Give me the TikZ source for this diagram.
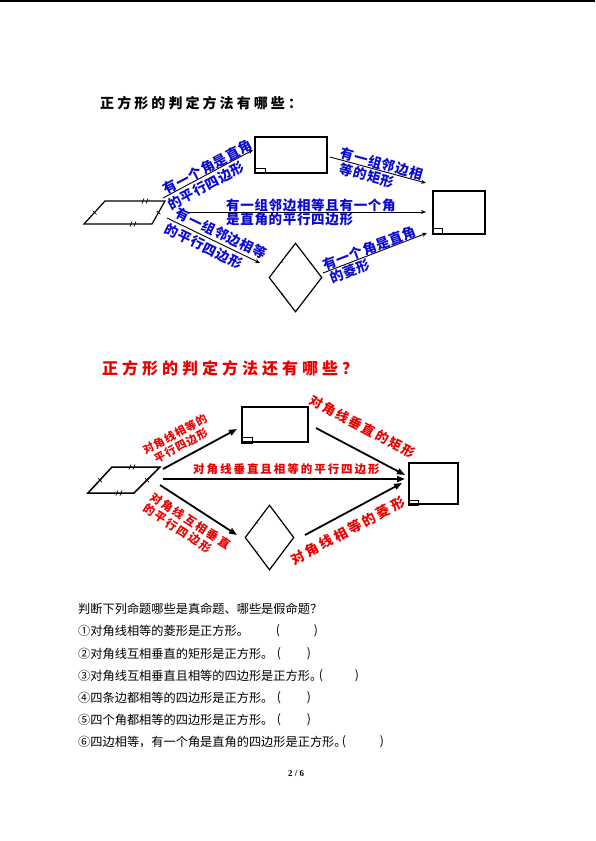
\documentclass[tikz,border=0pt]{standalone}
\usepackage{fontspec}
\setmainfont{Liberation Serif}
\newfontfamily\cjk{Noto Sans CJK SC}
\usetikzlibrary{arrows.meta,shapes.geometric,calc}
\definecolor{bluetxt}{RGB}{10,10,210}
\definecolor{redtxt}{RGB}{235,0,0}
\tikzset{
  bl/.style={font={\cjk\bfseries\fontsize{13.5}{14}\selectfont\addfontfeature{LetterSpace=5}}, text=bluetxt, inner sep=0pt},
  rdA/.style={font={\cjk\bfseries\fontsize{11}{12.5}\selectfont\addfontfeature{LetterSpace=9}}, text=redtxt, inner sep=0pt},
  rdB/.style={font={\cjk\bfseries\fontsize{13}{14}\selectfont\addfontfeature{LetterSpace=15}}, text=redtxt, inner sep=0pt},
  rdC/.style={font={\cjk\bfseries\fontsize{11.5}{13.5}\selectfont\addfontfeature{LetterSpace=17}}, text=redtxt, inner sep=0pt},
  rdD/.style={font={\cjk\bfseries\fontsize{13.5}{15}\selectfont\addfontfeature{LetterSpace=20}}, text=redtxt, inner sep=0pt},
  qtext/.style={font={\cjk\fontsize{12.2}{14}\selectfont}, inner sep=0pt},
  barr/.style={-{Stealth[length=5pt,width=4pt]}, line width=0.9pt},
  rarr/.style={-{Triangle[length=8pt,width=6pt]}, line width=1.8pt},
  tbox/.style={draw, line width=1.3pt, inner sep=0pt},
  rbox/.style={draw, line width=1.8pt, inner sep=0pt},
  pline/.style={line width=1.2pt, line join=miter},
  tick/.style={line width=0.7pt},
}
\begin{document}
\begin{tikzpicture}[x=1pt,y=-1pt]
\useasboundingbox (0,0) rectangle (595,841);
\fill (0,0.2) rectangle (595,1.5);

% ---------- title 1
\node[font={\cjk\bfseries\fontsize{14}{16}\selectfont\addfontfeature{LetterSpace=22}}, anchor=west, inner sep=0pt] (t1) at (100,103) {正方形的判定方法有哪些：};

% ---------- top diagram
\coordinate (p1a) at (105,201);
\coordinate (p1b) at (165,201);
\coordinate (p1c) at (152,224);
\coordinate (p1d) at (84,224);
\draw[pline] (p1a) -- (p1b) -- (p1c) -- (p1d) -- cycle;
\draw[tick] (142,203.5) -- (144,198.5) (146,203.5) -- (148,198.5);
\draw[tick] (130,226.5) -- (132,221.5) (134,226.5) -- (136,221.5);
\draw[tick] (92.5,210.5) -- (96.5,214.5);
\draw[tick] (156.5,210.8) -- (160.5,214.2);

\node[tbox, minimum width=72pt, minimum height=36pt] (r1) at (291,155) {};
\draw[line width=0.8pt] (r1.south west) rectangle ++(11,-5);
\node[tbox, minimum width=52pt, minimum height=43pt] (r2) at (459,212.5) {};
\draw[line width=0.8pt] (r2.south west) rectangle ++(10,-6);
\node[diamond, draw, line width=1.2pt, minimum width=53pt, minimum height=69pt, inner sep=0pt] (d1) at (295.5,277.5) {};
\draw[line width=0.5pt] (281,261) -- (283,262.5) (281,295) -- (283,293.5);

\coordinate (a1s) at (163,198); \coordinate (a1e) at (253,150);
\coordinate (a2s) at (330,157); \coordinate (a2e) at (426,183);
\coordinate (a3s) at (188,212); \coordinate (a3e) at (426,212);
\coordinate (a4s) at (167,218); \coordinate (a4e) at (260,263);
\coordinate (a5s) at (323,273); \coordinate (a5e) at (427,233);

\draw[barr] (a1s) -- (a1e)
  node[bl, sloped, pos=0.53, above=-1pt] (l1a) {有一个角是直角}
  node[bl, sloped, pos=0.43, below=2.5pt] (l1b) {的平行四边形};
\draw[barr] (a2s) -- (a2e)
  node[bl, sloped, pos=0.52, above=0pt] (l2a) {有一组邻边相}
  node[bl, sloped, pos=0.41, below=1pt] (l2b) {等的矩形};
\draw[barr] (a3s) -- (a3e);
\node[bl, anchor=west] (l3a) at (226,205.5) {有一组邻边相等且有一个角};
\node[bl, anchor=west] (l3b) at (226,219.5) {是直角的平行四边形};
\draw[barr] (a4s) -- (a4e)
  node[bl, sloped, pos=0.54, above=2.5pt] (l4a) {有一组邻边相等}
  node[bl, sloped, pos=0.44, below=2.5pt] (l4b) {的平行四边形};
\draw[barr] (a5s) -- (a5e)
  node[bl, sloped, pos=0.47, above=-0.5pt] (l5a) {有一个角是直角}
  node[bl, sloped, pos=0.23, below=1pt] (l5b) {的菱形};

% ---------- title 2
\node[font={\cjk\bfseries\fontsize{16}{18}\selectfont\addfontfeature{LetterSpace=25}}, text=redtxt, anchor=west, inner sep=0pt] (t2) at (102,368) {正方形的判定方法还有哪些？};

% ---------- bottom diagram
\coordinate (p2a) at (112,467);
\coordinate (p2b) at (160,467);
\coordinate (p2c) at (134,493);
\coordinate (p2d) at (88,493);
\draw[pline, line width=1.5pt] (p2a) -- (p2b) -- (p2c) -- (p2d) -- cycle;
\draw[tick] (129,469.5) -- (131,464.5) (133,469.5) -- (135,464.5);
\draw[tick] (116,495.5) -- (118,490.5) (120,495.5) -- (122,490.5);
\draw[tick] (98,478) -- (102,482);
\draw[tick] (145,478) -- (149,482);

\node[rbox, minimum width=66pt, minimum height=35pt] (r3) at (275,424.5) {};
\draw[line width=0.8pt] (r3.south west) rectangle ++(11,-6);
\node[rbox, minimum width=49pt, minimum height=41pt] (r4) at (433.5,483.5) {};
\draw[line width=0.8pt] (r4.south west) rectangle ++(10,-5);
\node[diamond, draw, line width=1.2pt, minimum width=49pt, minimum height=65pt, inner sep=0pt] (d2) at (269.5,537.5) {};
\draw[line width=0.5pt] (256,522) -- (258,523.5) (256,553) -- (258,551.5);

\coordinate (b1s) at (163,469); \coordinate (b1e) at (237,429);
\coordinate (b2s) at (316,428); \coordinate (b2e) at (405,475);
\coordinate (b3s) at (163,479); \coordinate (b3e) at (405,479);
\coordinate (b4s) at (160,485); \coordinate (b4e) at (237,535);
\coordinate (b5s) at (305,535); \coordinate (b5e) at (402,483);

\draw[rarr] (b1s) -- (b1e)
  node[rdA, sloped, pos=0.32, above=6pt, align=center] (m1) {对角线相等的\\平行四边形};
\draw[rarr] (b2s) -- (b2e)
  node[rdB, sloped, pos=0.40, above=16pt] (m2) {对角线垂直的矩形};
\draw[rarr] (b3s) -- (b3e)
  node[rdC, pos=0.51, above=3pt] (m3) {对角线垂直且相等的平行四边形};
\draw[rarr] (b4s) -- (b4e)
  node[rdC, sloped, pos=0.49, below=7pt, align=left] (m4) {对角线互相垂直\\的平行四边形};
\draw[rarr] (b5s) -- (b5e)
  node[rdD, sloped, pos=0.36, below=9pt] (m5) {对角线相等的菱形};

% ---------- questions
\node[qtext, anchor=west] (q0) at (78,609) {判断下列命题哪些是真命题、哪些是假命题？};
\node[qtext, anchor=west] (q1) at (78,631) {①对角线相等的菱形是正方形。};
\node[qtext] (q1l) at (278,631) {(}; \node[qtext] (q1r) at (316,631) {)};
\node[qtext, anchor=west] (q2) at (78,654) {②对角线互相垂直的矩形是正方形。};
\node[qtext] (q2l) at (279,654) {(}; \node[qtext] (q2r) at (309,654) {)};
\node[qtext, anchor=west] (q3) at (78,676) {③对角线互相垂直且相等的四边形是正方形。};
\node[qtext] (q3l) at (321,676) {(}; \node[qtext] (q3r) at (357,676) {)};
\node[qtext, anchor=west] (q4) at (78,698) {④四条边都相等的四边形是正方形。};
\node[qtext] (q4l) at (279,698) {(}; \node[qtext] (q4r) at (309,698) {)};
\node[qtext, anchor=west] (q5) at (78,720) {⑤四个角都相等的四边形是正方形。};
\node[qtext] (q5l) at (279,720) {(}; \node[qtext] (q5r) at (309,720) {)};
\node[qtext, anchor=west] (q6) at (78,742) {⑥四边相等，有一个角是直角的四边形是正方形。};
\node[qtext] (q6l) at (344,742) {(}; \node[qtext] (q6r) at (382,742) {)};

\node[font={\bfseries\fontsize{9}{10}\selectfont}, inner sep=0pt] (pg) at (296,774) {2 / 6};
\end{tikzpicture}
\end{document}
